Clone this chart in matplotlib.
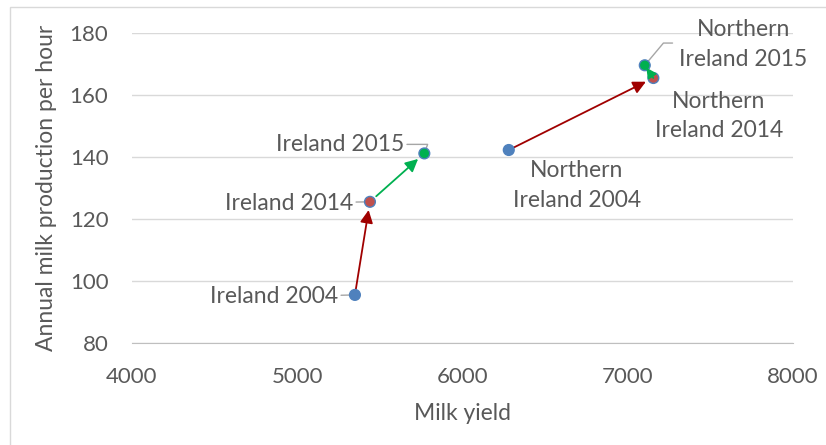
import matplotlib.pyplot as plt
from matplotlib.patches import Rectangle

plt.rcParams["font.family"] = ["Lato", "DejaVu Sans"]

TEXT = "#595959"
GRID = "#d9d9d9"
BLUE = "#4f81bd"
RED = "#c0504d"
GREEN = "#00b050"
DARK_RED = "#a00000"

regions = ["Ireland", "Northern Ireland"]
years = [2004, 2014, 2015]
milk_yield = {
    "Ireland": [5349, 5440, 5769],
    "Northern Ireland": [6280, 7155, 7103],
}
production_per_hour = {
    "Ireland": [95.5, 125.5, 141.1],
    "Northern Ireland": [142.2, 165.4, 169.5],
}
year_colours = [BLUE, RED, GREEN]

fig = plt.figure(figsize=(8.26, 4.45), dpi=100)
ax = fig.add_axes([132 / 826, 1 - 343 / 445, (793 - 132) / 826, (343 - 32.7) / 445])

# chart-area border
fig.patches.append(Rectangle((10 / 826, -0.05), 1.0, 1 - 7 / 445 + 0.05,
                             transform=fig.transFigure, fill=False,
                             edgecolor=GRID, lw=1))

ax.set_xlim(4000, 8000)
ax.set_ylim(80, 180)
ax.set_xticks(range(4000, 8001, 1000))
ax.set_yticks(range(80, 181, 20))
ax.grid(axis="y", color=GRID, lw=1)
ax.set_axisbelow(True)
for side in ["left", "right", "top"]:
    ax.spines[side].set_visible(False)
ax.spines["bottom"].set_color("#bfbfbf")
ax.tick_params(length=0, labelsize=16, labelcolor=TEXT)
ax.tick_params(axis="x", pad=17)
ax.tick_params(axis="y", pad=17)
ax.set_xlabel("Milk yield", fontsize=16.5, color=TEXT, labelpad=12)
ax.set_ylabel("Annual milk production per hour", fontsize=16.5, color=TEXT, labelpad=9)

for region in regions:
    ax.scatter(milk_yield[region], production_per_hour[region], s=60,
               c=year_colours, edgecolors=BLUE, linewidths=1, zorder=4)

# year-on-year arrows; the short 2014->2015 hop sits on top of the markers
for region in regions:
    xs, ys = milk_yield[region], production_per_hour[region]
    ax.annotate("", xy=(xs[1], ys[1]), xytext=(xs[0], ys[0]),
                arrowprops=dict(arrowstyle="-|>", color=DARK_RED, lw=1.3,
                                mutation_scale=19, shrinkA=3, shrinkB=6),
                zorder=3)
    short = abs(xs[2] - xs[1]) < 150
    ax.annotate("", xy=(xs[2], ys[2]), xytext=(xs[1], ys[1]),
                arrowprops=dict(arrowstyle="-|>", color=GREEN, lw=1.3,
                                mutation_scale=15 if short else 19,
                                shrinkA=0 if short else 6,
                                shrinkB=2 if short else 6),
                zorder=5 if short else 3)

label_style = dict(fontsize=16.5, color=TEXT, linespacing=1.5)
leader = dict(arrowstyle="-", color="#a6a6a6", lw=1, shrinkA=0, shrinkB=4)

xs, ys = milk_yield["Ireland"], production_per_hour["Ireland"]
ax.annotate("Ireland 2004", xy=(xs[0], ys[0]), xytext=(-12, -1.5),
            textcoords="offset points", ha="right", va="center",
            arrowprops=leader, **label_style)
ax.annotate("Ireland 2014", xy=(xs[1], ys[1]), xytext=(-12, -1),
            textcoords="offset points", ha="right", va="center",
            arrowprops=leader, **label_style)
ax.annotate("Ireland 2015", xy=(xs[2], ys[2]), xytext=(-14.5, 6.5),
            textcoords="offset points", ha="right", va="center",
            arrowprops=dict(leader, connectionstyle="angle,angleA=0,angleB=70,rad=0"),
            **label_style)

xs, ys = milk_yield["Northern Ireland"], production_per_hour["Northern Ireland"]
ax.annotate("Northern\nIreland 2004", xy=(xs[0], ys[0]), xytext=(49, -25.5),
            textcoords="offset points", ha="center", va="center",
            **label_style)
ax.annotate("Northern\nIreland 2014", xy=(xs[1], ys[1]), xytext=(47, -27.5),
            textcoords="offset points", ha="center", va="center",
            **label_style)
ax.annotate("Northern\nIreland 2015", xy=(xs[2], ys[2]), xytext=(71, 15),
            textcoords="offset points", ha="center", va="center",
            **label_style)
# leader for the top-right label
ax.annotate("", xy=(xs[2], ys[2]), xytext=(20, 16), textcoords="offset points",
            arrowprops=dict(arrowstyle="-", color="#a6a6a6", lw=1, shrinkA=0, shrinkB=3,
                            connectionstyle="angle,angleA=0,angleB=50,rad=0"))

fig.savefig("out.png", dpi=100)
